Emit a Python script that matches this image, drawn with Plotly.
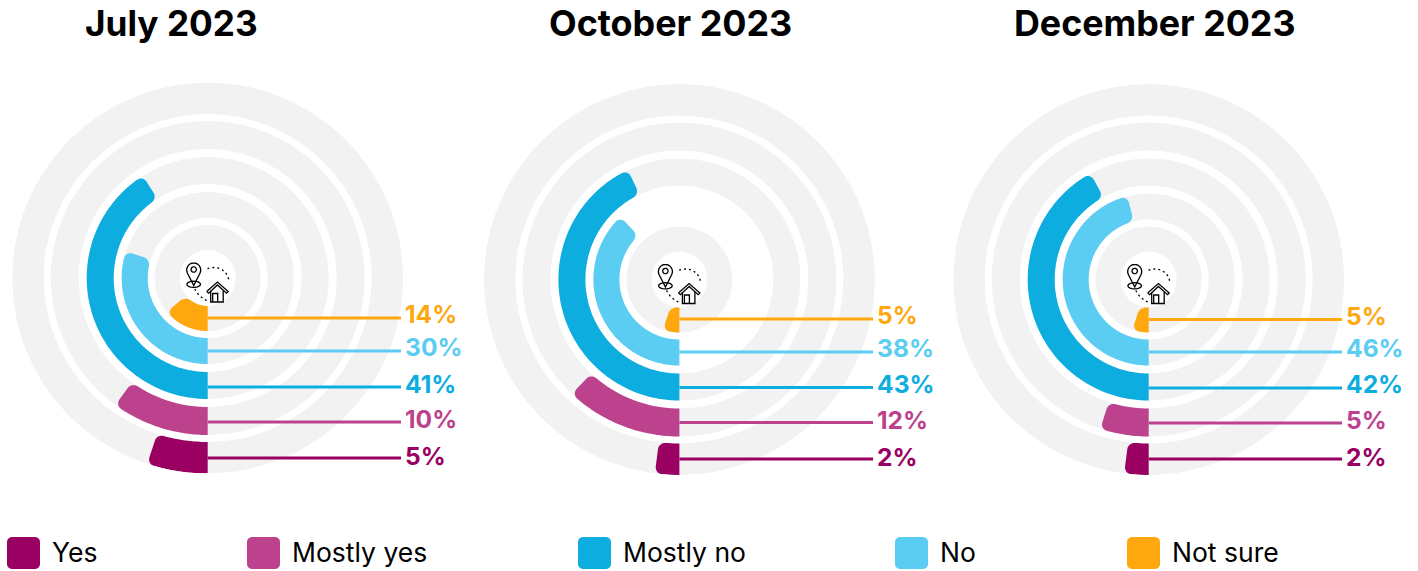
import numpy as np
import plotly.graph_objects as go

W, H = 1418, 571

months = ["July 2023", "October 2023", "December 2023"]
categories = ["Yes", "Mostly yes", "Mostly no", "No", "Not sure"]
yes = [5, 2, 2]
mostly_yes = [10, 12, 5]
mostly_no = [41, 43, 42]
no = [30, 38, 46]
not_sure = [14, 5, 5]
series = [yes, mostly_yes, mostly_no, no, not_sure]

colors = ["#990061", "#BC428E", "#0DAEDF", "#5BCCF2", "#FFA70F"]
GRAY = "#F2F2F2"
FONT = "Inter"

# ring limits for each category, in radial-axis units
ring_in = [164, 129, 94, 60, 28]
ring_out = [195.5, 157, 121, 86, 53]
# October's chart has no grey band behind "No"
missing_band = {1: [3]}

centers = [(207.7, 278), (679.4, 279.5), (1148.7, 279.5)]
title_x = [171.5, 670, 1155]
title_size = [35.2, 35.9, 35.8]
line_end = [401, 873, 1342]
label_x = [403, 875, 1344]
line_y = [[458, 422, 387, 351, 318], [459, 422.5, 387.5, 352, 319], [459, 423, 388, 352, 319.5]]
label_y = [[456, 419, 383.5, 347, 314], [457, 420, 384, 347.5, 315], [457, 420, 384, 347.5, 315.5]]
legend_swatch_x = [7, 247, 578, 895, 1127]
legend_text_x = [50, 290, 621, 938, 1170]
CORNER = 7


def px(x):
    return x / W


def py(y):
    return 1 - y / H


def arc_shape(value, r0, r1):
    """Closed outline in (r, theta): square at 0, rounded at the value's angle."""
    end = value * 3.6
    c = CORNER
    a = np.linspace(0, np.pi / 2, 10)
    d1 = np.degrees(c / r1)
    d0 = np.degrees(c / r0)
    t_outer = np.arange(0, end - d1, 1.0)
    r_outer = np.full(t_outer.shape, r1)
    r_c1 = r1 - c * (1 - np.cos(a))
    t_c1 = end - np.degrees(c * (1 - np.sin(a)) / r1)
    r_c0 = (r0 + c * (1 - np.cos(a)))[::-1]
    t_c0 = (end - np.degrees(c * (1 - np.sin(a)) / r0))[::-1]
    t_inner = np.arange(0, end - d0, 1.0)[::-1]
    r_inner = np.full(t_inner.shape, r0)
    r = np.concatenate([r_outer, r_c1, r_c0, r_inner, [r0], [r1]])
    t = np.concatenate([t_outer, t_c1, t_c0, t_inner, [0], [0]])
    return r, t


fig = go.Figure()
layout = {}
shapes = []
annotations = []

for p, (cx, cy) in enumerate(centers):
    name = "polar" if p == 0 else f"polar{p + 1}"
    R = ring_out[0]
    layout[name] = dict(
        domain=dict(x=[px(cx - R), px(cx + R)], y=[py(cy + R), py(cy - R)]),
        bgcolor="rgba(0,0,0,0)",
        radialaxis=dict(visible=False, range=[0, R]),
        angularaxis=dict(visible=False, rotation=-90, direction="clockwise"),
        barmode="overlay",
    )
    keep = [i for i in range(5) if i not in missing_band.get(p, [])]
    fig.add_trace(go.Barpolar(
        r=[ring_out[i] - ring_in[i] for i in keep],
        base=[ring_in[i] for i in keep],
        theta=[180] * len(keep),
        width=[360] * len(keep),
        marker=dict(color=GRAY, line=dict(width=0)),
        subplot=name, showlegend=False, hoverinfo="skip",
    ))
    for i, cat in enumerate(categories):
        r, t = arc_shape(series[i][p], ring_in[i], ring_out[i])
        fig.add_trace(go.Scatterpolar(
            r=r, theta=t, mode="lines", fill="toself", fillcolor=colors[i],
            line=dict(width=0, color=colors[i]), subplot=name, name=cat, showlegend=False,
        ))
        shapes.append(dict(
            type="line", xref="paper", yref="paper", layer="above",
            x0=px(cx), x1=px(line_end[p]), y0=py(line_y[p][i]), y1=py(line_y[p][i]),
            line=dict(color=colors[i], width=3),
        ))
        annotations.append(dict(
            text=f"<b>{series[i][p]}%</b>", xref="paper", yref="paper", showarrow=False,
            x=px(label_x[p]), y=py(label_y[p][i]), xanchor="left", yanchor="middle",
            font=dict(family=FONT, size=24.6, color=colors[i]),
        ))
    annotations.append(dict(
        text=f"<b>{months[p]}</b>", xref="paper", yref="paper", showarrow=False,
        x=px(title_x[p]), y=py(23), xanchor="center", yanchor="middle",
        font=dict(family=FONT, size=title_size[p], color="#000000"),
    ))

    # centre icon: pin, dotted route, house
    def pt(dx, dy):
        return f"{px(cx + dx):.6f},{py(cy + dy):.6f}"

    head = [(-14 + 7 * np.cos(a), -8 + 7 * np.sin(a)) for a in np.linspace(np.pi * 0.85, np.pi * 2.15, 24)]
    pin = "M" + pt(-14, 7.5) + " L" + " L".join(pt(*q) for q in head) + " Z"
    dot = [(-14 + 2.7 * np.cos(a), -8.5 + 2.7 * np.sin(a)) for a in np.linspace(0, 2 * np.pi, 16)]
    inner = "M" + " L".join(pt(*q) for q in dot) + " Z"
    base = [(-14 + 6.8 * np.cos(a), 6.3 + 3.1 * np.sin(a)) for a in np.linspace(0, 2 * np.pi, 20)]
    foot = "M" + " L".join(pt(*q) for q in base) + " Z"
    route1 = "M" + " L".join(pt(6 + 15 * np.cos(a), 3 + 15 * np.sin(a) * 0.9) for a in np.linspace(-2.0, -0.05, 14))
    route2 = "M" + " L".join(pt(*q) for q in [(-13, 11), (-9, 17), (-4, 21), (0, 23)])
    roof = "M" + " L".join(pt(*q) for q in [(-1, 13.5), (9.7, 4), (20.5, 13.5), (18.8, 15.2), (9.7, 7), (1, 15.2), (-1, 13.5)])
    walls = "M" + " L".join(pt(*q) for q in [(3, 12.5), (3, 24), (15.5, 24), (15.5, 12.5)])
    door = "M" + " L".join(pt(*q) for q in [(5, 24), (5, 15.5), (10, 15.5), (10, 24)])
    for d in [pin, inner, foot, roof, walls, door]:
        shapes.append(dict(type="path", xref="paper", yref="paper", layer="above", path=d,
                           line=dict(color="#000000", width=1.3)))
    for d in [route1, route2]:
        shapes.append(dict(type="path", xref="paper", yref="paper", layer="above", path=d,
                           line=dict(color="#000000", width=1.3, dash="2px,3px")))

# legend
for i, cat in enumerate(categories):
    x0, x1, y0, y1, c = legend_swatch_x[i], legend_swatch_x[i] + 33, 537, 569, 5
    a = np.linspace(0, np.pi / 2, 6)
    pts = []
    for (ax, ay, start) in [(x1 - c, y0 + c, -np.pi / 2), (x1 - c, y1 - c, 0), (x0 + c, y1 - c, np.pi / 2), (x0 + c, y0 + c, np.pi)]:
        pts += [(ax + c * np.cos(start + q), ay + c * np.sin(start + q)) for q in a]
    d = "M" + " L".join(f"{px(q[0]):.6f},{py(q[1]):.6f}" for q in pts) + " Z"
    shapes.append(dict(type="path", xref="paper", yref="paper", layer="above", path=d,
                       fillcolor=colors[i], line=dict(width=0)))
    annotations.append(dict(
        text=cat, xref="paper", yref="paper", showarrow=False,
        x=px(legend_text_x[i]), y=py(552), xanchor="left", yanchor="middle",
        font=dict(family=FONT, size=26.5, color="#000000"),
    ))

fig.update_layout(
    width=W, height=H, margin=dict(l=0, r=0, t=0, b=0, pad=0, autoexpand=False),
    paper_bgcolor="#FFFFFF", plot_bgcolor="#FFFFFF", showlegend=False,
    shapes=shapes, annotations=annotations, **layout,
)
fig.write_html("out.html", config={"displayModeBar": False},
               post_script="document.body.style.margin='0';document.body.style.overflow='hidden';")
